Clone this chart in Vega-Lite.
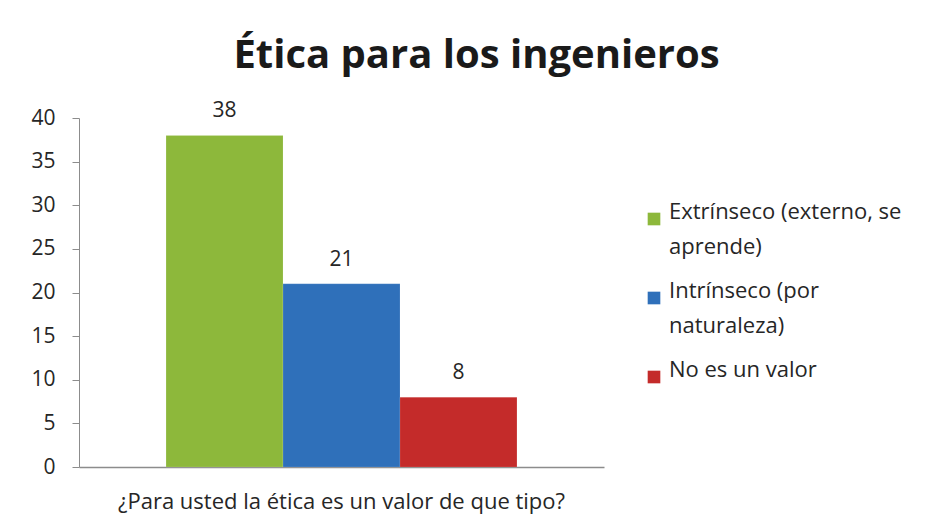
{
  "$schema": "https://vega.github.io/schema/vega-lite/v6.json",
  "width": 525,
  "height": 349,
  "autosize": {"type": "none"},
  "padding": {"left": 79, "top": 118, "right": 323, "bottom": 62},
  "background": "white",
  "title": {
    "text": "Ética para los ingenieros",
    "font": "Open Sans",
    "fontSize": 40,
    "fontWeight": "bold",
    "color": "#1a1a1a",
    "anchor": "middle",
    "dx": 135,
    "dy": 58,
    "baseline": "alphabetic",
    "offset": 50
  },
  "data": {
    "values": [
      {"categoria": "¿Para usted la ética es un valor de que tipo?", "respuesta": "Extrínseco (externo, se aprende)", "valor": 38},
      {"categoria": "¿Para usted la ética es un valor de que tipo?", "respuesta": "Intrínseco (por naturaleza)", "valor": 21},
      {"categoria": "¿Para usted la ética es un valor de que tipo?", "respuesta": "No es un valor", "valor": 8}
    ]
  },
  "encoding": {
    "x": {
      "field": "categoria",
      "type": "nominal",
      "scale": {"paddingInner": 0, "paddingOuter": 0.248},
      "axis": {
        "title": null,
        "labelAngle": 0,
        "labelFont": "Open Sans",
        "labelFontSize": 22,
        "labelColor": "#262626",
        "labelPadding": 24,
        "labelBaseline": "top",
        "labelDx": -6,
        "ticks": false,
        "domainColor": "#8c8c8c",
        "domainWidth": 1.5,
        "labelLimit": 700
      }
    },
    "xOffset": {
      "field": "respuesta",
      "type": "nominal",
      "sort": ["Extrínseco (externo, se aprende)", "Intrínseco (por naturaleza)", "No es un valor"],
      "scale": {"paddingInner": 0, "paddingOuter": 0}
    },
    "y": {
      "field": "valor",
      "type": "quantitative",
      "scale": {"domain": [0, 40], "nice": false},
      "axis": {
        "title": null,
        "values": [0, 5, 10, 15, 20, 25, 30, 35, 40],
        "grid": false,
        "tickSize": 7,
        "tickColor": "#8c8c8c",
        "domainColor": "#8c8c8c",
        "labelFont": "Open Sans",
        "labelFontSize": 21,
        "labelColor": "#262626",
        "labelPadding": 17
      }
    }
  },
  "layer": [
    {
      "mark": {"type": "bar", "stroke": "#ffffff", "strokeOpacity": 0.25, "strokeWidth": 0.5},
      "encoding": {
        "color": {
          "field": "respuesta",
          "type": "nominal",
          "sort": ["Extrínseco (externo, se aprende)", "Intrínseco (por naturaleza)", "No es un valor"],
          "scale": {
            "domain": ["Extrínseco (externo, se aprende)", "Intrínseco (por naturaleza)", "No es un valor"],
            "range": ["#8db83b", "#2f70ba", "#c42b2a"]
          },
          "legend": {
            "title": null,
            "orient": "none",
            "legendX": 564,
            "legendY": 90,
            "symbolType": "square",
            "symbolSize": 160,
            "symbolStrokeWidth": 0,
            "labelFont": "Open Sans",
            "labelFontSize": 22,
            "labelColor": "#262626",
            "labelLimit": 300,
            "labelOffset": 4,
            "labelExpr": "datum.label == 'Extrínseco (externo, se aprende)' ? ['Extrínseco (externo, se', 'aprende)'] : datum.label == 'Intrínseco (por naturaleza)' ? ['Intrínseco (por', 'naturaleza)'] : datum.label",
            "labelBaseline": "alphabetic",
            "rowPadding": 22,
            "encode": {"labels": {"update": {"dy": {"value": 7}}}}
          }
        }
      }
    },
    {
      "mark": {"type": "text", "font": "Open Sans", "fontSize": 21, "color": "#262626", "baseline": "alphabetic", "dy": -18},
      "encoding": {
        "text": {"field": "valor", "type": "quantitative"}
      }
    }
  ],
  "config": {
    "view": {"stroke": null},
    "style": {"guide-label": {"lineHeight": 35}}
  }
}
